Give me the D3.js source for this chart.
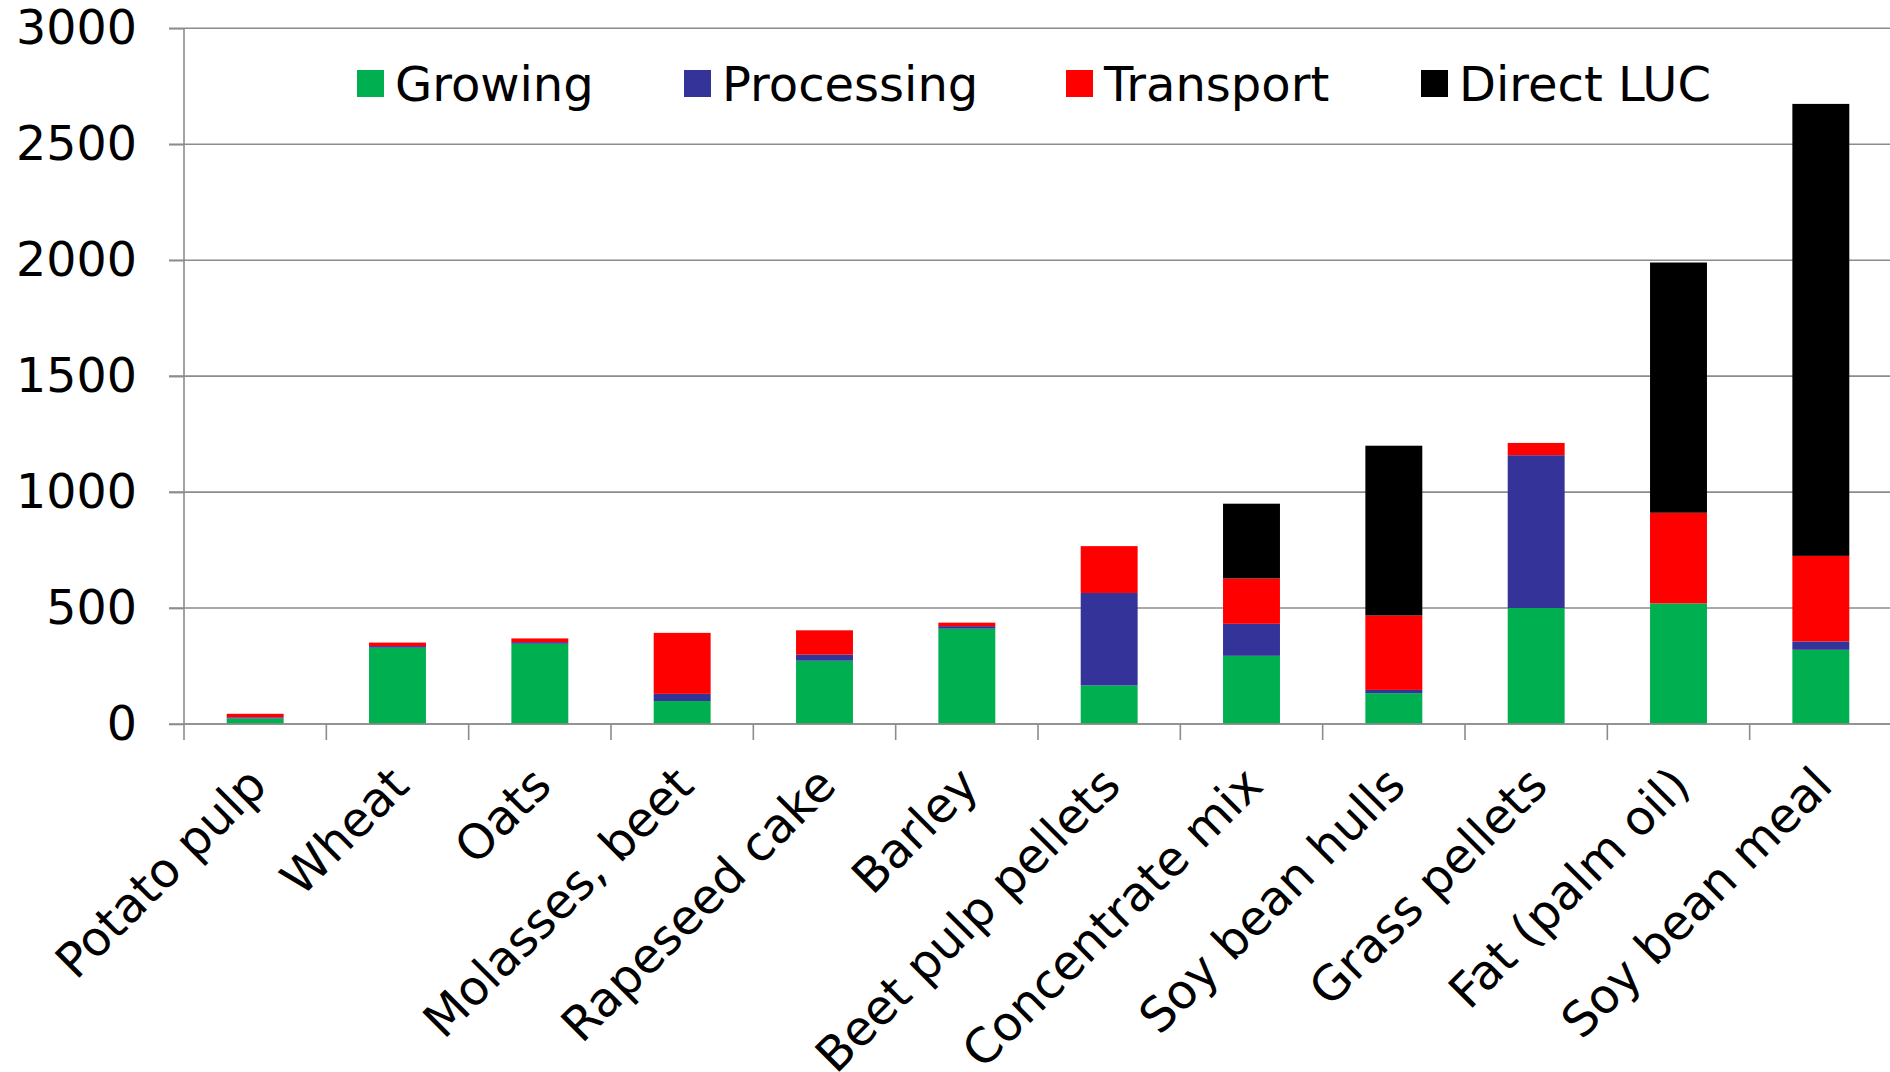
<!DOCTYPE html>
<html><head><meta charset="utf-8">
<script src="https://cdn.jsdelivr.net/npm/d3@7"></script>
<style>body{margin:0;background:#fff;}svg{display:block;font-family:"DejaVu Sans",Verdana,sans-serif;}</style>
</head><body>
<svg id="chart" width="1890" height="1072"></svg>
<script>
const categories = ["Potato pulp","Wheat","Oats","Molasses, beet","Rapeseed cake","Barley","Beet pulp pellets","Concentrate mix","Soy bean hulls","Grass pellets","Fat (palm oil)","Soy bean meal"];
const seriesNames = ["Growing","Processing","Transport","Direct LUC"];
const growing    = [24, 329, 346, 99, 273, 411, 166, 294, 133, 500, 520, 320];
const processing = [5, 7, 7, 31, 26, 11, 399, 138, 14, 659, 0, 36];
const transport  = [15, 15, 16, 263, 105, 15, 202, 196, 321, 53, 391, 369];
const directLUC  = [0, 0, 0, 0, 0, 0, 0, 322, 732, 0, 1079, 1949];
const yTicks = [0, 500, 1000, 1500, 2000, 2500, 3000];
const colors = ["#00B050", "#333399", "#FF0000", "#000000"];

const rows = categories.map((c, i) => ({cat: c, "Growing": growing[i], "Processing": processing[i], "Transport": transport[i], "Direct LUC": directLUC[i]}));
const stacked = d3.stack().keys(seriesNames)(rows);

const svg = d3.select("#chart");
const x0 = 184, x1 = 1892, yTop = 28.3, yBot = 724;
const x = d3.scaleBand().domain(categories).range([x0, x1]).paddingInner(0.6).paddingOuter(0.3);
const xb = d3.scaleBand().domain(categories).range([x0, x1]);
const y = d3.scaleLinear().domain([0, 3000]).range([yBot, yTop]);
const color = d3.scaleOrdinal().domain(seriesNames).range(colors);
const FS = 48;

// gridlines
svg.append("g").selectAll("line").data(yTicks).join("line")
  .attr("x1", 169).attr("x2", 1890)
  .attr("y1", d => y(d)).attr("y2", d => y(d))
  .attr("stroke", "#8c8c8c").attr("stroke-width", 1.6);

// y axis
const yAxis = d3.axisLeft(y).tickValues(yTicks).tickSize(15).tickPadding(32).tickFormat(d3.format("d"));
const gy = svg.append("g").attr("transform", `translate(${x0},0)`).call(yAxis);
gy.select(".domain").attr("stroke", "#8c8c8c").attr("stroke-width", 1.6).attr("d", `M0,${yTop}V${yBot}`);
gy.selectAll(".tick line").attr("stroke", "#8c8c8c").attr("stroke-width", 1.6);
gy.selectAll(".tick text").attr("font-size", 47.5).attr("fill", "#000").attr("font-family", "DejaVu Sans");

// bars
svg.append("g").selectAll("g").data(stacked).join("g")
  .attr("fill", d => color(d.key))
  .selectAll("rect").data(d => d).join("rect")
  .attr("x", d => x(d.data.cat))
  .attr("width", x.bandwidth())
  .attr("y", d => y(d[1]))
  .attr("height", d => Math.max(0, y(d[0]) - y(d[1])));

// x axis
const xAxis = d3.axisBottom(xb).tickSize(0).tickFormat("");
const gx = svg.append("g").attr("transform", `translate(0,${yBot})`).call(xAxis);
gx.select(".domain").attr("stroke", "#8c8c8c").attr("stroke-width", 1.6).attr("d", `M${x0},0H1890`);
const bounds = categories.map(c => xb(c)).concat([x1]);
gx.append("g").selectAll("line").data(bounds).join("line")
  .attr("x1", d => d).attr("x2", d => d).attr("y1", 0).attr("y2", 16)
  .attr("stroke", "#8c8c8c").attr("stroke-width", 1.6);
// labels
svg.append("g").selectAll("text").data(categories).join("text")
  .attr("transform", d => `translate(${xb(d) + xb.bandwidth() / 2 + 2},${yBot + 52}) rotate(-45)`)
  .attr("text-anchor", "end")
  .attr("dy", "0.35em")
  .attr("font-size", FS)
  .attr("fill", "#000")
  .text(d => d);

// legend
const legendX = [357, 684, 1066, 1421];
const lg = svg.append("g").selectAll("g").data(seriesNames).join("g")
  .attr("transform", (d, i) => `translate(${legendX[i]},70)`);
lg.append("rect").attr("width", 27).attr("height", 27).attr("fill", d => color(d));
lg.append("text").attr("x", 38).attr("y", 30.5).attr("font-size", FS).attr("fill", "#000").text(d => d);
</script>
</body></html>
